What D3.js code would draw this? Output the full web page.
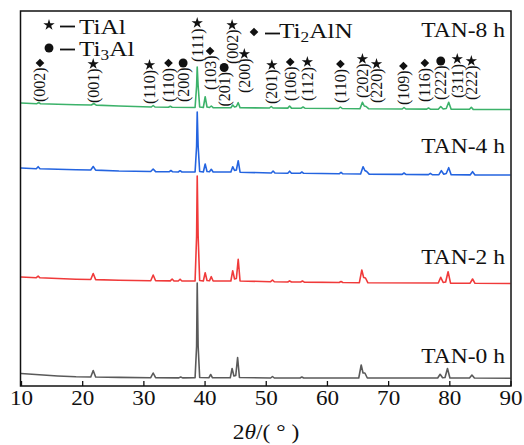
<!DOCTYPE html>
<html><head><meta charset="utf-8">
<script src="https://cdn.jsdelivr.net/npm/d3@7"></script>
<style>body{margin:0;background:#fff}svg{display:block}text{font-family:"Liberation Serif","Times New Roman",serif;fill:#111}</style>
</head><body><svg id="c" width="524" height="445"></svg>
<script>
// ---------- DATA ----------
const xTicks = [10,20,30,40,50,60,70,80,90];
const seriesNames = ["TAN-0 h","TAN-2 h","TAN-4 h","TAN-8 h"];
const seriesColors = ["#5a5a5a","#f03a3a","#2464e0","#3cb26a"];
// [2θ, intensity (a.u., stacked)]
const tan0 = [[10,12.5],[13,11.2],[16,10],[19,9.2],[21.4,9],[21.8,15.5],[22.2,9],
 [26,8.6],[31.2,8.3],[31.6,13],[32,8.3],[35.8,8.1],[36.1,9],[36.4,8.1],
 [38.45,8.2],[38.7,40],[38.8,103],[38.95,40],[39.2,8.5],
 [40.7,8.2],[41.0,11.5],[41.3,8.2],
 [44.2,8.2],[44.5,17.5],[44.8,10],[45.1,10.5],[45.4,28.5],[45.7,8.5],
 [50.8,8],[51.1,9.5],[51.4,8],[55.6,8],[55.9,9],[56.2,8],
 [65.2,8],[65.6,21],[65.9,13],[66.2,13],[66.6,8],
 [78.1,8],[78.5,11.7],[78.9,8.2],[79.3,8.5],[79.7,17.5],[80.1,8],
 [83.3,8],[83.7,11],[84.1,8],[90,7.8]];
const tan2 = [[10,109],[12.5,108.3],[12.8,109.8],[13.1,108.2],[16,107.5],[19,106.8],[21.4,106.5],[21.8,112.5],[22.2,106.4],
 [26,105.8],[31.2,105.3],[31.6,111],[32,105.2],[34.4,105.1],[34.7,107],[35,105],[35.7,105],[36,106.8],[36.3,105],
 [38.45,105],[38.7,150],[38.8,210],[38.95,150],[39.2,105.5],
 [39.8,105],[40.1,113.3],[40.4,105.5],[40.8,105.2],[41.1,109.3],[41.4,105],
 [44.3,105],[44.6,115.3],[44.9,107],[45.2,107.5],[45.5,126.7],[45.8,105],
 [50.8,104.3],[51.1,106],[51.4,104.2],[53.6,104],[53.9,105.2],[54.2,104],[55.7,104],[56,105],[56.3,103.9],
 [62,103.5],[62.3,104.5],[62.6,103.5],
 [65.3,103.3],[65.7,116],[66,108.5],[66.3,108],[66.7,103.2],
 [78.2,103],[78.6,108.7],[79,103.5],[79.4,104],[79.8,114.3],[80.2,102.9],
 [83.4,102.8],[83.8,107],[84.2,102.7],[90,102.5]];
const tan4 = [[10,218],[12.5,217.3],[12.8,219.3],[13.1,217.2],[16,216.7],[19,216.2],[21.4,216],[21.8,219.5],[22.2,215.9],
 [26,215],[31.2,214.5],[31.6,217],[32,214.4],[34.2,214.2],[34.5,215.5],[34.8,214.2],[35.7,214],[36,215.3],[36.3,214],
 [38.45,214],[38.7,240],[38.8,274],[38.95,240],[39.2,214.5],
 [39.8,214],[40.1,222],[40.4,214.5],[40.8,214.2],[41.1,216.7],[41.4,214],
 [44.3,214],[44.6,219.3],[44.9,215.5],[45.2,216],[45.5,225.3],[45.8,213.8],
 [50.9,213],[51.2,215],[51.5,213],[53.6,212.8],[53.9,214.8],[54.2,212.8],[55.6,212.7],[55.9,214],[56.2,212.7],
 [62,212.2],[62.3,213.7],[62.6,212.2],
 [65.5,212],[65.9,219.3],[66.2,215.5],[66.5,214.5],[66.9,211.9],
 [72.3,211.6],[72.6,213],[72.9,211.6],[76.6,211.4],[76.9,212.6],[77.2,211.4],
 [78.3,211.3],[78.7,215.3],[79.1,211.8],[79.5,212.5],[79.9,218.3],[80.3,211.2],
 [83.4,211.1],[83.8,214.3],[84.2,211],[90,211]];
const tan8 = [[10,283],[12.6,282.3],[12.9,283.5],[13.2,282.2],[16,281.8],[19,281.2],[21.5,281],[21.9,282.5],[22.3,280.9],
 [26,280],[31.3,279],[31.6,280.5],[31.9,279],[34.1,278.8],[34.4,279.8],[34.7,278.7],
 [38.45,278.5],[38.7,300],[38.8,319],[38.95,300],[39.2,279],
 [39.8,278.5],[40.1,289.3],[40.4,279],[40.8,278.5],[41.1,280],[41.4,278.4],
 [44.3,278.3],[44.6,281],[44.9,279],[45.2,279.5],[45.5,283.3],[45.8,278.2],
 [50.6,278],[50.9,279.5],[51.2,278],[53.6,277.9],[53.9,280],[54.2,277.9],[55.8,277.8],[56.1,279],[56.4,277.8],
 [61.9,277.5],[62.2,279],[62.5,277.5],
 [65.4,277.3],[65.8,283.7],[66.1,280],[66.4,279.5],[66.8,277.3],
 [72.3,277],[72.6,278.5],[72.9,277],[76.3,276.9],[76.6,278],[76.9,276.9],
 [78.2,276.8],[78.6,279.5],[79,277],[79.5,277.5],[79.9,283.7],[80.3,276.7],
 [83.3,276.7],[83.6,278.7],[83.9,276.6],[90,276.5]];
const series = [tan0, tan2, tan4, tan8];

// peak annotations: label, 2θ, phase
const peakLabels = ["(002)","(001)","(110)","(110)","(200)","(111)","(103)","(201)","(002)","(200)","(201)","(106)","(112)","(110)","(202)","(220)","(109)","(116)","(222)","(311)","(222)"];
const peakPos    = [13.1,21.8,31.0,34.1,36.5,38.8,40.9,43.2,44.5,46.5,51.0,54.0,56.8,62.2,65.8,68.1,72.5,76.0,78.6,81.3,83.6];
const peakPhase  = ["N","A","A","N","T","A","N","T","A","A","A","N","A","N","A","A","N","N","T","A","A"];
// A = TiAl (star), T = Ti3Al (circle), N = Ti2AlN (diamond)

// ---------- LAYOUT ----------
const labelBottom = [102,103,104,102,102,62,90,106.5,64,93,104,101,101,103,98,103,105,102,100,98,100];
const M = {left:20.5, right:511, top:11, bottom:386};
const svg = d3.select("#c");
const x = d3.scaleLinear().domain([10,90]).range([21,510.5]);
const y = d3.scaleLinear().domain([0,375]).range([M.bottom, M.top]);
const SX = 1.12;

function sym(phase){
  if(phase==="A") return d3.symbol(d3.symbolStar, 40)();
  if(phase==="T") return d3.symbol(d3.symbolCircle, 62)();
  return d3.symbol(d3.symbolDiamond2, 48)();
}

// lines
const line = d3.line().x(d=>x(d[0])).y(d=>y(d[1]));
series.forEach((s,i)=>{
  svg.append("path").attr("d", line(s)).attr("fill","none")
    .attr("stroke", seriesColors[i]).attr("stroke-width",1.6).attr("stroke-linejoin","round");
});

// frame
svg.append("rect").attr("x",M.left).attr("y",M.top).attr("width",M.right-M.left).attr("height",M.bottom-M.top)
  .attr("fill","none").attr("stroke","#111").attr("stroke-width",1.5);

// x axis
const ax = svg.append("g").attr("transform",`translate(0,${M.bottom})`)
  .call(d3.axisBottom(x).tickValues(xTicks).tickSizeInner(-5).tickSizeOuter(0).tickPadding(0).tickFormat(d3.format("d")));
ax.select(".domain").remove();
ax.selectAll(".tick line").attr("stroke","#111").attr("stroke-width",1.3);
ax.selectAll(".tick text").attr("font-size",21).attr("font-family","Liberation Serif")
  .attr("y",19.5).attr("dy",0).attr("fill","#111").attr("transform",`scale(1.1,1)`);

// axis title
const tt = svg.append("text").attr("transform",`translate(266,439) scale(${SX},1)`)
  .attr("text-anchor","middle").attr("font-size",21);
tt.append("tspan").text("2");
tt.append("tspan").attr("font-style","italic").text("θ");
tt.append("tspan").text("/( ° )");

// series names
const nameY = [363,264,153,37];
seriesNames.forEach((n,i)=>{
  svg.append("text").attr("transform",`translate(505,${nameY[i]}) scale(${SX},1)`)
    .attr("text-anchor","end").attr("font-size",21).text(n);
});

// legend
function legendRow(sx, sy, phase, parts, tx, ty){
  svg.append("path").attr("d", sym(phase)).attr("transform",`translate(${sx},${sy})`).attr("fill","#111");
  svg.append("line").attr("x1",sx+11).attr("x2",sx+26).attr("y1",sy+1.5).attr("y2",sy+1.5).attr("stroke","#111").attr("stroke-width",1.8);
  const t = svg.append("text").attr("transform",`translate(${tx},${ty}) scale(1.15,1)`).attr("font-size",22);
  parts.forEach(p=>{
    if(p.sub) t.append("tspan").attr("font-size",15).attr("dy",4).text(p.t);
    else t.append("tspan").attr("dy", p.up?-4:0).text(p.t);
  });
}
legendRow(49,25,"A",[{t:"TiAl"}],79,34);
legendRow(49,48,"T",[{t:"Ti"},{t:"3",sub:true},{t:"Al",up:true}],79,56);
legendRow(254,32,"N",[{t:"Ti"},{t:"2",sub:true},{t:"AlN",up:true}],279,38);

// peak annotations
peakLabels.forEach((lab,i)=>{
  const px = x(peakPos[i]);
  const b = labelBottom[i];
  svg.append("text").attr("transform",`translate(${px},${b}) rotate(-90)`)
    .attr("dy","0.34em").attr("font-size",16).text(lab);
  svg.append("path").attr("d", sym(peakPhase[i])).attr("transform",`translate(${px},${b-39})`).attr("fill","#111");
});
</script></body></html>
